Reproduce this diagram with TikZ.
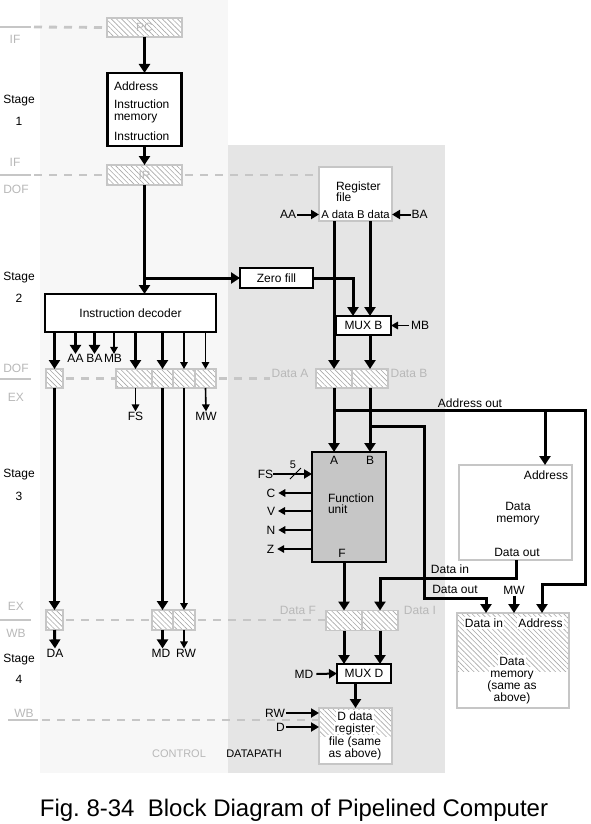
\documentclass[tikz,border=0pt]{standalone}
\usepackage{fontspec}
\setmainfont{Liberation Sans}
\usetikzlibrary{arrows.meta,patterns.meta}
\definecolor{ctrlbg}{HTML}{F7F7F7}
\definecolor{dpbg}{HTML}{E5E5E5}
\definecolor{pgray}{HTML}{C6C6C6}
\definecolor{hgray}{HTML}{A8A8A8}
\definecolor{lgray}{HTML}{B8B8B8}
\definecolor{fugray}{HTML}{C6C6C6}
\begin{document}
\begin{tikzpicture}[x=1pt,y=-1pt,
  font=\fontsize{12}{13}\selectfont,
  every node/.style={inner sep=0pt,outer sep=0pt,text height=8.6pt,text depth=0.6pt},
  blk/.style={draw=black,line width=2.2pt,fill=white},
  hatch/.style={pattern={Lines[angle=-45,distance=3.6pt,line width=0.6pt]},pattern color=hgray},
  preg/.style={draw=pgray,line width=1.8pt,preaction={fill=white},hatch,text=lgray},
  gbox/.style={draw=pgray,line width=2pt,fill=white},
  bus/.style={line width=3pt,-{Triangle[length=9pt,width=11pt]}},
  mid/.style={line width=2pt,-{Triangle[length=8pt,width=9pt]}},
  sig/.style={line width=1.6pt,-{Triangle[length=7pt,width=7.5pt]}},
  pdash/.style={draw=pgray,line width=2.8pt,dash pattern=on 8pt off 7pt},
  psolid/.style={draw=pgray,line width=2.8pt},
  plab/.style={text=lgray},
  wt/.style={fill=white,inner sep=1pt},
  small/.style={font=\fontsize{11}{13}\selectfont},
]
\useasboundingbox (0,0) rectangle (591,824);
\fill[ctrlbg] (40,0) rectangle (228,773);
\fill[dpbg] (228,145) rectangle (445,773);

% ---------- boxes ----------
\node[preg,minimum width=75pt,minimum height=19pt] (pc) at (144.5,27.5) {PC};
\node[blk,minimum width=74pt,minimum height=73pt] (imem) at (144.5,109.5) {};
\node[anchor=west] (im1) at (114,87) {Address};
\node[anchor=west] (im2) at (114,105) {Instruction};
\node[anchor=west] (im3) at (114,117) {memory};
\node[anchor=west] (im4) at (114,136) {Instruction};
\node[preg,minimum width=75pt,minimum height=20pt] (ir) at (144.5,175) {IR};

\node[gbox,minimum width=73pt,minimum height=54pt] (rf) at (355.5,194) {};
\node[anchor=west] (rf1) at (336,186) {Register};
\node[anchor=west] (rf2) at (336,197.5) {file};
\node[font=\fontsize{11.3}{13}\selectfont] (rf3) at (355.5,214.5) {A data B data};

\node[blk,minimum width=73pt,minimum height=20pt] (zf) at (276.5,278) {Zero fill};
\node[blk,minimum width=55pt,minimum height=19pt] (mb) at (363.5,325.5) {MUX B};
\node[blk,minimum width=171pt,minimum height=38pt] (dec) at (130.5,313) {Instruction decoder};

% DOF/EX pipeline registers
\node[preg,minimum width=17pt,minimum height=19pt] (ra1) at (54.5,378.5) {};
\node[preg,minimum width=36pt,minimum height=19pt] (ra2) at (134,378.5) {};
\node[preg,minimum width=21pt,minimum height=19pt] (ra3) at (162.5,378.5) {};
\node[preg,minimum width=22pt,minimum height=19pt] (ra4) at (184,378.5) {};
\node[preg,minimum width=21pt,minimum height=19pt] (ra5) at (205.5,378.5) {};
\node[preg,minimum width=36pt,minimum height=19pt] (ra6) at (334,378.5) {};
\node[preg,minimum width=36pt,minimum height=19pt] (ra7) at (370,378.5) {};

% function unit
\node[blk,fill=fugray,minimum width=74pt,minimum height=110pt] (fu) at (349,507) {};
\node (fuA) at (334,460) {A};
\node (fuB) at (370,460) {B};
\node[anchor=west] (fu1) at (328,498) {Function};
\node[anchor=west] (fu2) at (328,509.5) {unit};
\node (fuF) at (342,553) {F};

% data memory
\node[gbox,minimum width=113pt,minimum height=95pt] (dm1) at (515.5,512.5) {};
\node (dm1a) at (546,475) {Address};
\node (dm1b) at (518,506) {Data};
\node (dm1c) at (518,518.5) {memory};
\node (dm1d) at (517,552) {Data out};

% EX/WB pipeline registers
\node[preg,minimum width=17pt,minimum height=20pt] (rb1) at (54.5,620) {};
\node[preg,minimum width=21pt,minimum height=20pt] (rb2) at (162.5,620) {};
\node[preg,minimum width=22pt,minimum height=20pt] (rb3) at (184,620) {};
\node[preg,minimum width=36pt,minimum height=20pt] (rb4) at (344,620.5) {};
\node[preg,minimum width=36pt,minimum height=20pt] (rb5) at (380,620.5) {};

% second data memory
\node[gbox,minimum width=112pt,minimum height=95pt,
  path picture={\path[hatch] (path picture bounding box.north west) rectangle ([yshift=-58pt]path picture bounding box.north east);}] (dm2) at (513,660.5) {};
\node[wt] (dm2a) at (484,623) {Data in};
\node[wt] (dm2b) at (540.5,623) {Address};
\node[wt] (dm2c) at (512,661) {Data};
\node[wt] (dm2d) at (512,673) {memory};
\node[wt] (dm2e) at (512,685) {(same as};
\node[wt] (dm2f) at (512,697) {above)};

\node[blk,minimum width=54pt,minimum height=19pt] (md) at (364,673.5) {MUX D};
\node[gbox,minimum width=73pt,minimum height=56pt,
  path picture={\path[hatch] (path picture bounding box.north west) rectangle ([yshift=-28pt]path picture bounding box.north east);}] (dr) at (355.5,736) {};
\node[wt] (dr1) at (355,716) {D data};
\node[wt] (dr2) at (355,728) {register};
\node[wt] (dr3) at (355,741) {file (same};
\node[wt] (dr4) at (355,753) {as above)};

% ---------- stage labels ----------
\node[plab] (tif1) at (15,40) {IF};
\node (st1) at (19,100) {Stage};
\node (st1n) at (19,122) {1};
\node[plab] (tif2) at (15,162) {IF};
\node[plab] (tdof1) at (16,189) {DOF};
\node (st2) at (19,276) {Stage};
\node (st2n) at (19,298) {2};
\node[plab] (tdof2) at (16,368) {DOF};
\node[plab] (tex1) at (16,397) {EX};
\node (st3) at (19,473) {Stage};
\node (st3n) at (19,496) {3};
\node[plab] (tex2) at (16,606) {EX};
\node[plab] (twb1) at (16,633) {WB};
\node (st4) at (19,658) {Stage};
\node (st4n) at (19,679) {4};
\node[plab] (twb2) at (24,713) {WB};
\node[plab] (tda) at (290,373) {Data A};
\node[plab] (tdb) at (409,373) {Data B};
\node[plab] (tdf) at (298,610) {Data F};
\node[plab] (tdi) at (420,610) {Data I};
\node[plab,small] (tctl) at (179,753) {CONTROL};
\node[small] (tdp) at (254,753) {DATAPATH};

% ---------- pipeline boundary lines ----------
\coordinate (l1) at (0,27);   \coordinate (l1b) at (31,27);  \coordinate (l1c) at (34,27);
\coordinate (l2) at (0,175);  \coordinate (l2b) at (31,175); \coordinate (l2c) at (34,175);
\coordinate (l3) at (0,379);  \coordinate (l3b) at (31,379);
\coordinate (l4) at (0,620);  \coordinate (l4b) at (31,620);
\coordinate (l5) at (8,720);  \coordinate (l5b) at (38,720); \coordinate (l5c) at (42,720);
\draw[psolid] (l1) -- (l1b);
\draw[pdash] (l1c) -- (pc.west);
\draw[psolid] (l2) -- (l2b);
\draw[pdash] (l2c) -- (ir.west);
\draw[pdash] ([xshift=3pt]ir.east) -- (rf.west |- ir.east);
\draw[psolid] (l3) -- (l3b);
\draw[pdash] ([xshift=3pt]ra1.east) -- (ra2.west);
\draw[pdash] ([xshift=3pt]ra5.east) -- ([xshift=-46pt]ra6.west);
\draw[psolid] (l4) -- (l4b);
\draw[pdash] ([xshift=3pt]rb1.east) -- (rb2.west);
\draw[pdash] ([xshift=3pt]rb3.east) -- (rb4.west |- rb3.east);
\draw[psolid] (l5) -- (l5b);
\draw[pdash] (l5c) -- (dr.west |- l5c);

% ---------- instruction fetch / decode ----------
\draw[bus] (pc.south) -- (pc.south |- imem.north);
\draw[bus] (imem.south) -- (imem.south |- ir.north);
\draw[bus] (ir.south) -- (ir.south |- dec.north);
\draw[bus] (ir.south |- zf.west) -- (zf.west);

\node (aa) at (288,214.5) {AA};
\draw[mid] ([xshift=1pt]aa.east) -- (rf.west |- aa.east);
\node (ba) at (419.5,214.5) {BA};
\draw[mid] ([xshift=-1pt]ba.west) -- (rf.east |- ba.west);
\draw[bus] (rf.south -| ra6) -- (ra6.north);
\draw[bus] (rf.south -| ra7) -- (ra7 |- mb.north);
\draw[bus] (zf.east) -| ([xshift=-10.5pt]mb.north);
\node (mbl) at (420,325.5) {MB};
\draw[sig] ([xshift=-2pt]mbl.west) -- (mb.east |- mbl.west);
\draw[bus] (mb.south -| ra7) -- (ra7.north);

% decoder outputs
\node (laa) at (75.5,358.5) {AA};
\node (lba) at (94.5,358.5) {BA};
\node (lmb) at (113,358.5) {MB};
\draw[bus] (dec.south -| ra1) -- (ra1.north);
\draw[bus] (dec.south -| laa) -- (laa.north);
\draw[bus] (dec.south -| lba) -- (lba.north);
\draw[sig] ([xshift=1pt]dec.south -| lmb) -- ([xshift=1pt]lmb.north);
\node (fs1) at (135.5,416) {FS};
\node (mw1) at (206,416) {MW};
\draw[bus] (dec.south -| fs1) -- (fs1 |- ra2.north);
\draw[bus] (dec.south -| ra3) -- (ra3.north);
\draw[sig] (dec.south -| ra4) -- (ra4.north);
\draw[sig] (dec.south -| ra5) -- (ra5.north);
\draw[sig] (ra2.south -| fs1) -- (fs1.north);
\draw[sig] (ra5.south) -- (mw1.north);

% control to EX/WB
\draw[bus] (ra1.south) -- (rb1.north);
\draw[bus] (ra3.south) -- (rb2.north);
\draw[sig] (ra4.south) -- (rb3.north);
\node (da) at (55,653) {DA};
\node (mdo) at (161,653) {MD};
\node (rwo) at (186,653) {RW};
\draw[bus] (rb1.south) -- (da.north);
\draw[bus] (rb2.south) -- (rb2.south |- mdo.north);
\draw[sig] (rb3.south) -- (rb3.south |- rwo.north);

% ---------- execute ----------
\draw[bus] (ra6.south) -- (ra6.south |- fu.north);
\draw[bus] (ra7.south) -- (ra7.south |- fu.north);
\coordinate (ja) at (334,410);
\coordinate (c1) at (585,410);
\coordinate (c2) at (585,584);
\coordinate (c3) at (542,584);
\coordinate (ja2) at (545,410);
\draw[bus] (ja) -- (c1) -- (c2) -- (c3) -- (c3 |- dm2.north);
\draw[bus] (ja2) -- (ja2 |- dm1.north);
\node (aol) at (470,403) {Address out};
\coordinate (jb) at (370,426);
\coordinate (d1) at (424,426);
\coordinate (d2) at (424,598);
\coordinate (d3) at (486,598);
\draw[bus] (jb) -- (d1) -- (d2) -- (d3) -- (d3 |- dm2.north);
\node (dol) at (455,589) {Data out};
\node (mw2) at (514,590) {MW};
\draw[bus] ([yshift=-1pt]mw2.south) -- (mw2 |- dm2.north);
\coordinate (e1) at (516,578);
\draw[bus] (dm1.south -| e1) -- (e1) -- (e1 -| rb5) -- (rb5.north);
\node (dil) at (450,569) {Data in};
\draw[bus] (fu.south -| rb4) -- (rb4.north);

\node (fsl) at (265.5,474) {FS};
\draw[mid] (fsl.east) -- (fu.west |- fsl.east);
\coordinate (s1) at (290,479);
\coordinate (s2) at (301,468);
\draw[line width=1pt] (s1) -- (s2);
\node[small] (five) at (293,464) {5};
\node (cl) at (271,493) {C};
\node (vl) at (271,511) {V};
\node (nl) at (271,530) {N};
\node (zl) at (270.5,549) {Z};
\draw[sig] (fu.west |- cl) -- ([xshift=3pt]cl.east);
\draw[sig] (fu.west |- vl) -- ([xshift=3pt]vl.east);
\draw[sig] (fu.west |- nl) -- ([xshift=3pt]nl.east);
\draw[sig] (fu.west |- zl) -- ([xshift=3pt]zl.east);

% ---------- write back ----------
\draw[bus] (rb4.south) -- (rb4.south |- md.north);
\draw[bus] (rb5.south) -- (rb5.south |- md.north);
\node (mdl2) at (304,674) {MD};
\draw[mid] ([xshift=3pt]mdl2.east) -- (md.west);
\draw[bus] (md.south -| dr.north) -- (dr.north);
\node (rw2) at (275,713) {RW};
\node (dl) at (280.5,727) {D};
\draw[mid] ([xshift=1pt]rw2.east) -- (dr.west |- rw2.east);
\draw[mid] ([xshift=1pt]dl.east) -- (dr.west |- dl.east);

% caption
\node[font=\fontsize{24}{28}\selectfont,anchor=base] (cap) at (294,816) {Fig.\ 8-34~~Block Diagram of Pipelined Computer};
\end{tikzpicture}
\end{document}
